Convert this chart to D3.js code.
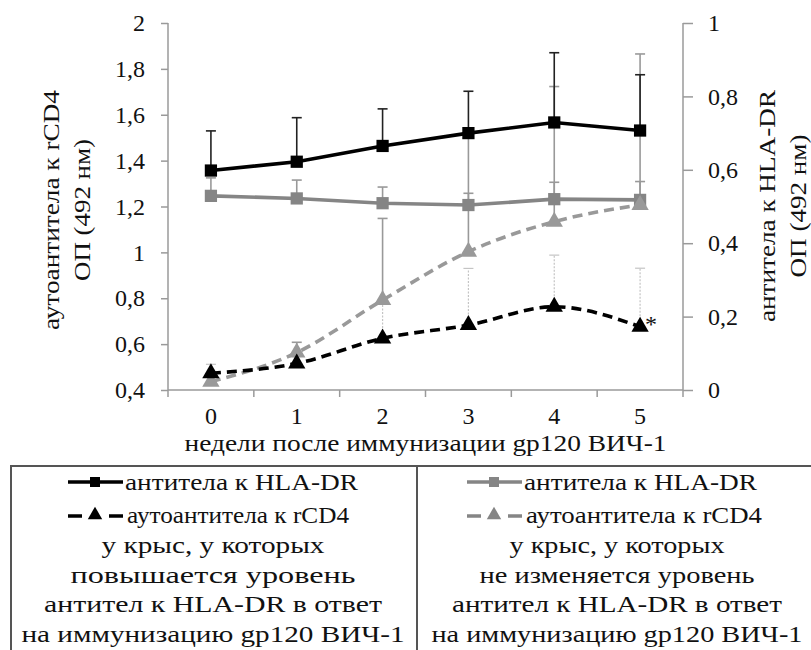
<!DOCTYPE html>
<html><head><meta charset="utf-8">
<script src="https://cdn.jsdelivr.net/npm/d3@7/dist/d3.min.js"></script>
<style>
body{margin:0;background:#fff;}
svg text{fill:#111;}
</style></head>
<body><svg id="c" width="811" height="650"></svg>
<script>
const weeks = ["0","1","2","3","4","5"];
// group with rising HLA-DR antibodies (black)
const hlaUp = [0.598,0.622,0.665,0.700,0.729,0.707];
const hlaUpErr = [0.108,0.120,0.101,0.114,0.190,0.152];
const cd4Up = [0.473,0.516,0.625,0.683,0.763,0.676];
const cd4UpErr = [0.039,0.030,0.157,0.247,0.225,0.255];
// group with unchanged HLA-DR antibodies (gray)
const hlaSame = [0.529,0.522,0.509,0.504,0.520,0.518];
const hlaSameErr = [0.049,0.050,0.044,0.032,0.046,0.050];
const cd4Same = [0.436,0.563,0.792,1.003,1.134,1.207];
const cd4SameErr = [0.030,0.045,0.356,0.504,0.589,0.658];
const leftTicks = [0.4,0.6,0.8,1,1.2,1.4,1.6,1.8,2];
const rightTicks = [0,0.2,0.4,0.6,0.8,1];
const xTitle = "недели после иммунизации gp120 ВИЧ-1";
const leftTitle = ["аутоантитела к rCD4","ОП (492 нм)"];
const rightTitle = ["антитела к HLA-DR","ОП (492 нм)"];
const legendSeries = ["антитела к HLA-DR","аутоантитела к rCD4"];
const groupLeft = ["у крыс, у которых","повышается уровень","антител к HLA-DR в ответ","на иммунизацию gp120 ВИЧ-1"];
const groupRight = ["у крыс, у которых","не изменяется уровень","антител к HLA-DR в ответ","на иммунизацию gp120 ВИЧ-1"];

const svg = d3.select("#c");
const L = 168, R = 683, T = 23, B = 390;
const FS = 24;
const FONT = "'Times New Roman','Liberation Serif',Times,'Nimbus Roman','FreeSerif','Noto Serif','DejaVu Serif',serif";
const AX = "#9a9a9a", GRAY = "#858585", GRAY2 = "#999";
const x = d3.scaleBand().domain(weeks).range([L,R]);
const cx = d => x(d) + x.bandwidth()/2;
const yL = d3.scaleLinear().domain([0.4,2]).range([B,T]);
const yR = d3.scaleLinear().domain([0,1]).range([B,T]);
const fmt = v => d3.format("~g")(v).replace(".",",");
const fit = (sel, w) => sel.attr("textLength", w).attr("lengthAdjust", "spacingAndGlyphs");

// axes
const gL = svg.append("g").attr("transform",`translate(${L},0)`)
  .call(d3.axisLeft(yL).tickValues(leftTicks).tickFormat(fmt).tickSize(7).tickPadding(16));
const gR = svg.append("g").attr("transform",`translate(${R},0)`)
  .call(d3.axisRight(yR).tickValues(rightTicks).tickFormat(fmt).tickSize(10).tickPadding(15));
const gX = svg.append("g").attr("transform",`translate(0,${B})`)
  .call(d3.axisBottom(x).tickSize(0).tickPadding(17));
[gL,gR,gX].forEach(g=>{
  g.attr("font-family",FONT);
  g.select(".domain").remove();
  g.selectAll("line").attr("stroke",AX).attr("stroke-width",1.5);
  g.selectAll("text").attr("font-size",24).attr("fill","#111").attr("font-family",FONT);
});
gL.append("line").attr("x1",0).attr("x2",0).attr("y1",T).attr("y2",B+7).attr("stroke",AX).attr("stroke-width",1.5);
gR.append("line").attr("x1",0).attr("x2",0).attr("y1",T).attr("y2",B+7).attr("stroke",AX).attr("stroke-width",1.5);
gX.append("line").attr("x1",L).attr("x2",R).attr("y1",0).attr("y2",0).attr("stroke",AX).attr("stroke-width",1.5);
const bounds = weeks.slice(1).map(w=>x(w));
gX.selectAll(".bt").data(bounds).enter().append("line")
  .attr("x1",d=>d).attr("x2",d=>d).attr("y1",0).attr("y2",7).attr("stroke",AX).attr("stroke-width",1.5);

// titles
fit(svg.append("text").attr("x",(L+R)/2).attr("y",451).attr("text-anchor","middle").attr("font-size",FS).attr("font-family",FONT).text(xTitle), 482);
const leftW = [240,142], rightW = [232,143];
leftTitle.forEach((t,i)=>fit(svg.append("text").attr("transform",`translate(${59+i*31},210) rotate(-90)`)
  .attr("text-anchor","middle").attr("font-size",FS).attr("font-family",FONT).text(t), leftW[i]));
rightTitle.forEach((t,i)=>fit(svg.append("text").attr("transform",`translate(${775+i*31},206) rotate(-90)`)
  .attr("text-anchor","middle").attr("font-size",FS).attr("font-family",FONT).text(t), rightW[i]));

// error bars
function errBars(vals, errs, ys, color, width, dash){
  const g = svg.append("g");
  weeks.forEach((w,i)=>{
    const xx = cx(w), y0 = ys(vals[i]), y1 = ys(vals[i]+errs[i]);
    g.append("line").attr("x1",xx).attr("x2",xx).attr("y1",y0).attr("y2",y1)
      .attr("stroke",color).attr("stroke-width",width).attr("stroke-dasharray",dash||null);
    g.append("line").attr("x1",xx-5).attr("x2",xx+5).attr("y1",y1).attr("y2",y1)
      .attr("stroke",color).attr("stroke-width",width);
  });
}
errBars(cd4Same, cd4SameErr, yL, GRAY2, 1.6);
errBars(hlaSame, hlaSameErr, yR, GRAY2, 1.6);
errBars(cd4Up, cd4UpErr, yL, "#c4c4c4", 1.2, "2,1.5");
errBars(hlaUp, hlaUpErr, yR, "#222", 1.6);

// lines
function series(vals, ys, color, dash, marker){
  const line = d3.line().x((d,i)=>cx(weeks[i])).y(d=>ys(d)).curve(dash ? d3.curveMonotoneX : d3.curveLinear);
  svg.append("path").datum(vals).attr("d",line).attr("fill","none").attr("stroke",color)
    .attr("stroke-width",3.6).attr("stroke-dasharray",dash||null);
  const sym = marker==="sq" ? d3.symbol(d3.symbolSquare,150) : d3.symbol(d3.symbolTriangle,130);
  svg.append("g").selectAll("path").data(vals).enter().append("path")
    .attr("d",sym).attr("fill",color)
    .attr("transform",(d,i)=>`translate(${cx(weeks[i])},${ys(d)})`);
}
series(hlaSame, yR, GRAY, null, "sq");
series(cd4Same, yL, GRAY2, "10,6", "tri");
series(cd4Up, yL, "#000", "10,6", "tri");
series(hlaUp, yR, "#000", null, "sq");

svg.append("text").attr("x",651).attr("y",332).attr("text-anchor","middle").attr("font-size",24).attr("font-family",FONT).attr("fill","#333").text("*");

// legend table
svg.append("rect").attr("x",11).attr("y",466).attr("width",830).attr("height",220)
  .attr("fill","none").attr("stroke","#555").attr("stroke-width",2);
svg.append("line").attr("x1",417).attr("x2",417).attr("y1",466).attr("y2",650).attr("stroke","#555").attr("stroke-width",2);

function legendCell(x0, color, texts, rowW, groupTexts, groupW, cxText){
  const g = svg.append("g").attr("font-family",FONT);
  g.append("line").attr("x1",x0).attr("x2",x0+55).attr("y1",482).attr("y2",482).attr("stroke",color).attr("stroke-width",3.6);
  g.append("path").attr("d",d3.symbol(d3.symbolSquare,100)()).attr("fill",color).attr("transform",`translate(${x0+27},482)`);
  fit(g.append("text").attr("x",x0+57).attr("y",490).attr("font-size",FS).text(texts[0]), rowW[0]);
  g.append("line").attr("x1",x0).attr("x2",x0+55).attr("y1",516).attr("y2",516).attr("stroke",color).attr("stroke-width",3.6).attr("stroke-dasharray","14,27");
  g.append("path").attr("d",d3.symbol(d3.symbolTriangle,90)()).attr("fill",color).attr("transform",`translate(${x0+27},515)`);
  fit(g.append("text").attr("x",x0+59).attr("y",523).attr("font-size",FS).text(texts[1]), rowW[1]);
  groupTexts.forEach((t,i)=>fit(g.append("text").attr("x",cxText).attr("y",553+i*29.5)
    .attr("text-anchor","middle").attr("font-size",FS).text(t), groupW[i]));
}
legendCell(68, "#000", legendSeries, [233,222], groupLeft, [223,285,338,383], 213);
legendCell(467, GRAY, legendSeries, [233,236], groupRight, [215,275,330,371], 617);
</script></body></html>
